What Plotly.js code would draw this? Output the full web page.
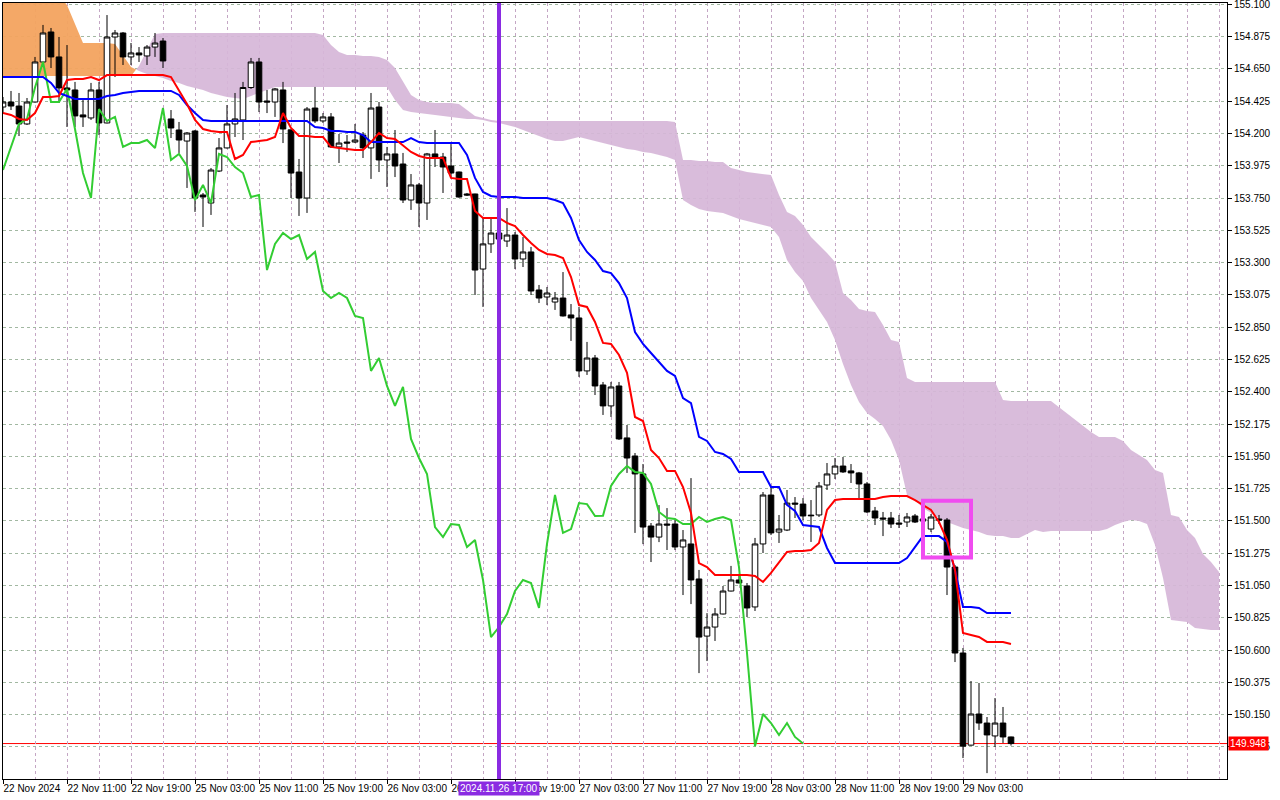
<!DOCTYPE html>
<html><head><meta charset="utf-8">
<script src="https://cdn.plot.ly/plotly-3.0.1.min.js"></script>
<style>html,body{margin:0;padding:0;background:#fff;}#chart{width:1280px;height:800px;}</style>
</head><body><div id="chart"></div>
<script>
// ---- data (USDJPY H1, Ichimoku) ----
const tickBars = [0,8,16,24,32,40,48,56,64,72,80,88,96,104,112,120];
const tickLabels = ['22 Nov 2024','22 Nov 11:00','22 Nov 19:00','25 Nov 03:00','25 Nov 11:00','25 Nov 19:00','26 Nov 03:00','26 Nov 11:00','26 Nov 19:00','27 Nov 03:00','27 Nov 11:00','27 Nov 19:00','28 Nov 03:00','28 Nov 11:00','28 Nov 19:00','29 Nov 03:00'];

const open = [154.384,154.419,154.391,154.266,154.419,154.698,154.907,154.733,154.517,154.503,
154.329,154.308,154.503,154.273,154.872,154.900,154.733,154.761,154.740,154.802,
154.844,154.301,154.224,154.147,154.217,153.771,153.715,153.938,154.099,154.266,
154.294,154.520,154.698,154.426,154.419,154.503,154.225,153.931,153.750,154.377,
154.287,154.315,154.106,154.140,154.140,154.189,154.099,154.384,154.015,154.057,
153.987,153.736,153.841,153.715,154.057,154.036,153.973,153.931,153.778,153.778,
153.255,153.430,153.506,153.450,153.492,153.325,153.374,153.109,153.060,153.025,
153.053,152.935,152.914,152.545,152.635,152.447,152.301,152.440,152.078,151.952,
151.827,151.464,151.387,151.478,151.478,151.318,151.339,151.095,150.697,150.760,
150.851,151.011,151.088,151.046,150.900,151.339,151.680,151.422,151.436,151.624,
151.617,151.540,151.541,151.750,151.827,151.882,151.848,151.834,151.757,151.569,
151.520,151.520,151.485,151.492,151.534,151.499,151.443,151.513,151.506,151.178,
150.579,149.937,150.154,150.091,150.001,150.091,149.994];

const high = [154.454,154.496,154.482,154.447,154.733,154.956,154.935,154.872,154.816,154.559,
154.433,154.552,154.559,155.025,154.921,154.907,154.830,154.802,154.816,154.900,
154.865,154.363,154.280,154.210,154.224,153.785,153.959,154.168,154.398,154.482,
154.559,154.726,154.726,154.503,154.517,154.559,154.225,154.022,154.384,154.524,
154.342,154.342,154.196,154.189,154.266,154.210,154.482,154.419,154.106,154.224,
154.064,153.917,153.855,154.064,154.224,154.064,154.126,153.934,153.785,153.780,
153.618,153.611,153.583,153.680,153.513,153.478,153.409,153.144,153.130,153.095,
153.234,153.011,152.991,152.747,152.656,152.468,152.468,152.468,152.168,151.973,
151.896,151.485,151.610,151.589,151.506,151.436,151.798,151.158,150.857,150.892,
151.046,151.186,151.123,151.067,151.381,151.701,151.736,151.541,151.715,151.666,
151.659,151.645,151.771,151.903,151.938,151.945,151.896,151.841,151.771,151.597,
151.562,151.562,151.541,151.555,151.548,151.541,151.548,151.541,151.520,151.192,
150.614,150.384,150.370,150.133,150.265,150.203,149.996];

const low = [154.342,154.363,154.182,154.259,154.415,154.663,154.656,154.412,154.245,154.245,
154.245,154.294,154.189,154.270,154.593,154.677,154.677,154.698,154.677,154.733,
154.656,154.168,154.064,153.820,153.653,153.548,153.632,153.931,154.095,154.175,
154.154,154.510,154.349,154.342,154.315,154.133,153.750,153.625,153.646,154.273,
154.273,154.100,153.994,154.071,154.133,154.029,153.883,153.931,153.827,153.896,
153.715,153.667,153.548,153.597,153.966,153.785,153.896,153.752,153.764,153.074,
152.991,153.367,153.423,153.409,153.255,153.269,153.074,153.018,153.004,152.970,
152.924,152.754,152.503,152.517,152.377,152.238,152.224,152.064,151.834,151.416,
151.338,151.213,151.352,151.297,151.297,150.983,150.920,150.439,150.523,150.663,
150.848,151.008,151.064,150.830,150.872,151.276,151.401,151.346,151.429,151.520,
151.506,151.353,151.527,151.715,151.792,151.834,151.764,151.659,151.555,151.471,
151.394,151.450,151.450,151.457,151.485,151.471,151.422,151.478,150.983,150.516,
149.847,149.934,150.043,149.742,149.924,149.952,149.934];

const close = [154.419,154.391,154.266,154.419,154.698,154.900,154.733,154.517,154.503,154.322,
154.315,154.503,154.273,154.872,154.900,154.733,154.761,154.747,154.802,154.830,
154.705,154.238,154.154,154.203,153.750,153.757,153.945,154.099,154.266,154.301,
154.520,154.698,154.419,154.419,154.510,154.231,153.924,153.750,154.370,154.287,
154.315,154.106,154.133,154.133,154.154,154.099,154.377,154.015,154.057,153.973,
153.736,153.841,153.715,154.057,154.036,153.966,153.924,153.757,153.771,153.248,
153.430,153.506,153.464,153.492,153.325,153.374,153.102,153.053,153.088,153.053,
152.928,152.914,152.545,152.635,152.440,152.301,152.433,152.071,151.938,151.827,
151.457,151.387,151.478,151.471,151.318,151.367,151.088,150.690,150.760,150.851,
151.011,151.088,151.067,150.893,151.339,151.680,151.416,151.443,151.624,151.617,
151.534,151.536,151.743,151.827,151.882,151.841,151.834,151.757,151.562,151.520,
151.513,151.478,151.478,151.527,151.492,151.513,151.527,151.506,151.178,150.579,
149.930,150.154,150.091,150.008,150.091,149.994,149.948];

const tenkan = [154.342,154.329,154.301,154.294,154.342,154.454,154.454,154.461,154.572,154.579,
154.579,154.593,154.572,154.607,154.607,154.607,154.607,154.607,154.607,154.607,
154.607,154.593,154.503,154.405,154.294,154.231,154.217,154.210,154.210,154.022,
154.050,154.140,154.147,154.154,154.175,154.342,154.238,154.182,154.182,154.175,
154.175,154.106,154.099,154.092,154.085,154.085,154.140,154.203,154.168,154.161,
154.113,154.071,154.043,154.029,154.029,154.029,153.890,153.883,153.883,153.660,
153.611,153.611,153.611,153.576,153.555,153.492,153.436,153.388,153.360,153.353,
153.332,153.199,153.004,152.991,152.886,152.740,152.733,152.656,152.531,152.224,
152.196,151.994,151.938,151.848,151.848,151.736,151.555,151.206,151.178,151.123,
151.123,151.123,151.123,151.123,151.116,151.074,151.137,151.213,151.283,151.290,
151.290,151.297,151.346,151.576,151.645,151.652,151.652,151.652,151.652,151.652,
151.666,151.673,151.673,151.673,151.645,151.610,151.576,151.492,151.367,151.158,
150.719,150.705,150.691,150.656,150.656,150.656,150.642];

const kijun = [154.593,154.593,154.593,154.593,154.593,154.593,154.552,154.482,154.461,154.440,
154.440,154.440,154.440,154.461,154.468,154.482,154.489,154.496,154.496,154.496,
154.496,154.496,154.468,154.398,154.342,154.294,154.287,154.287,154.287,154.287,
154.287,154.287,154.287,154.287,154.287,154.287,154.287,154.287,154.287,154.245,
154.238,154.217,154.217,154.210,154.210,154.189,154.140,154.140,154.140,154.140,
154.140,154.168,154.140,154.133,154.133,154.133,154.133,154.133,154.050,153.890,
153.792,153.764,153.757,153.757,153.757,153.750,153.750,153.750,153.750,153.736,
153.715,153.611,153.457,153.374,153.318,153.241,153.227,153.157,153.053,152.816,
152.733,152.670,152.607,152.545,152.510,152.356,152.321,152.085,152.057,151.980,
151.966,151.931,151.841,151.841,151.841,151.841,151.736,151.736,151.611,151.569,
151.471,151.464,151.457,151.311,151.206,151.206,151.206,151.206,151.206,151.206,
151.206,151.206,151.206,151.241,151.318,151.394,151.394,151.394,151.353,151.158,
150.900,150.900,150.893,150.858,150.858,150.858,150.858];

// Chikou span: closes plotted 26 bars back (bars 0..100)
const chikou = [153.945,154.099,154.266,154.301,154.520,154.698,154.419,154.419,154.510,154.231,
153.924,153.750,154.370,154.287,154.315,154.106,154.133,154.133,154.154,154.099,
154.377,154.015,154.057,153.973,153.736,153.841,153.715,154.057,154.036,153.966,
153.924,153.757,153.771,153.248,153.430,153.506,153.464,153.492,153.325,153.374,
153.102,153.053,153.088,153.053,152.928,152.914,152.545,152.635,152.440,152.301,
152.433,152.071,151.938,151.827,151.457,151.387,151.478,151.471,151.318,151.367,
151.088,150.690,150.760,150.851,151.011,151.088,151.067,150.893,151.339,151.680,
151.416,151.443,151.624,151.617,151.534,151.536,151.743,151.827,151.882,151.841,
151.834,151.757,151.562,151.520,151.513,151.478,151.478,151.527,151.492,151.513,
151.527,151.506,151.178,150.579,149.930,150.154,150.091,150.008,150.091,149.994,
149.948];

// Senkou spans (bars 0..152, projected 26 bars ahead)
const spanA = [155.160,155.160,155.160,155.160,155.160,155.160,155.160,155.160,155.095,154.956,
154.830,154.830,154.830,154.830,154.823,154.740,154.663,154.635,154.614,154.600,
154.586,154.565,154.552,154.531,154.517,154.503,154.482,154.468,154.454,154.447,
154.440,154.461,154.482,154.503,154.524,154.524,154.524,154.524,154.524,154.524,
154.524,154.524,154.524,154.524,154.524,154.524,154.524,154.524,154.524,154.433,
154.363,154.349,154.342,154.335,154.329,154.322,154.315,154.308,154.301,154.301,
154.294,154.280,154.273,154.259,154.245,154.224,154.203,154.182,154.161,154.147,
154.147,154.161,154.175,154.161,154.147,154.133,154.120,154.106,154.092,154.085,
154.071,154.064,154.050,154.036,154.015,153.736,153.701,153.673,153.660,153.653,
153.646,153.625,153.604,153.590,153.576,153.562,153.548,153.478,153.318,153.234,
153.172,153.053,152.970,152.886,152.760,152.593,152.447,152.328,152.252,152.210,
152.161,152.064,151.924,151.680,151.645,151.590,151.555,151.520,151.492,151.471,
151.450,151.436,151.422,151.401,151.394,151.394,151.380,151.380,151.408,151.436,
151.422,151.429,151.429,151.429,151.429,151.429,151.429,151.429,151.443,151.471,
151.492,151.506,151.499,151.478,151.332,151.102,150.809,150.802,150.795,150.754,
150.747,150.740,150.740];

const spanB = [154.600,154.600,154.600,154.600,154.600,154.600,154.600,154.600,154.600,154.600,
154.600,154.600,154.600,154.600,154.600,154.600,154.600,154.670,154.782,154.893,
154.900,154.900,154.900,154.900,154.900,154.900,154.900,154.900,154.900,154.900,
154.900,154.900,154.900,154.900,154.900,154.900,154.900,154.900,154.900,154.900,
154.886,154.816,154.768,154.747,154.747,154.740,154.740,154.733,154.712,154.656,
154.559,154.468,154.433,154.419,154.412,154.412,154.412,154.405,154.363,154.322,
154.308,154.294,154.287,154.287,154.287,154.287,154.287,154.287,154.287,154.287,
154.287,154.287,154.287,154.287,154.287,154.287,154.287,154.287,154.287,154.287,
154.287,154.287,154.287,154.287,154.280,154.015,154.015,154.008,154.008,154.001,
154.001,153.959,153.945,153.931,153.924,153.917,153.910,153.771,153.653,153.625,
153.562,153.478,153.423,153.367,153.304,153.088,153.039,152.977,152.963,152.956,
152.865,152.760,152.747,152.496,152.468,152.468,152.468,152.468,152.468,152.468,
152.468,152.468,152.468,152.468,152.468,152.342,152.335,152.335,152.335,152.335,
152.335,152.335,152.287,152.245,152.203,152.161,152.119,152.084,152.084,152.084,
152.057,151.994,151.959,151.924,151.854,151.834,151.541,151.527,151.436,151.381,
151.269,151.213,151.144];

const lastPrice = 149.948;
const markedBar = 62;
const markedLabel = '2024.11.26 17:00';
const boxBars = [115, 121];
const boxPrices = [151.245, 151.641];

// ---- build ----
const xr = [0, 153];
const yr = [149.701, 155.109];
const idx = open.map((_, i) => i);

function cloudSegments(a, b) {
  const segs = [];
  let cur = null;
  for (let i = 0; i < a.length; i++) {
    const up = a[i] >= b[i];
    if (!cur) { cur = {up, xs:[i], a:[a[i]], b:[b[i]]}; continue; }
    if (up !== cur.up) {
      const d0 = a[i-1] - b[i-1], d1 = a[i] - b[i];
      const t = d0 / (d0 - d1);
      const xc = i - 1 + t, yc = a[i-1] + t * (a[i] - a[i-1]);
      cur.xs.push(xc); cur.a.push(yc); cur.b.push(yc);
      segs.push(cur);
      cur = {up, xs:[xc, i], a:[yc, a[i]], b:[yc, b[i]]};
    } else {
      cur.xs.push(i); cur.a.push(a[i]); cur.b.push(b[i]);
    }
  }
  segs.push(cur);
  return segs;
}

const traces = [];
cloudSegments(spanA, spanB).forEach(s => {
  traces.push({
    type:'scatter', mode:'lines', xaxis:'x', yaxis:'y',
    x: s.xs.concat(s.xs.slice().reverse()),
    y: s.a.concat(s.b.slice().reverse()),
    fill:'toself', fillcolor: s.up ? 'rgba(243,163,95,0.95)' : 'rgba(214,182,216,0.92)',
    line:{width:0}, hoverinfo:'skip'
  });
});

traces.push({
  type:'candlestick', xaxis:'x2', yaxis:'y2',
  x: idx, open, high, low, close,
  increasing:{line:{color:'#000000', width:1}, fillcolor:'#ffffff'},
  decreasing:{line:{color:'#000000', width:1}, fillcolor:'#000000'},
  whiskerwidth:0, hoverinfo:'skip'
});
traces.push({type:'scatter', mode:'lines', xaxis:'x2', yaxis:'y2', x: chikou.map((_, i) => i), y: chikou, line:{color:'#32CD32', width:2}, hoverinfo:'skip'});
traces.push({type:'scatter', mode:'lines', xaxis:'x2', yaxis:'y2', x: idx, y: kijun, line:{color:'#0000ff', width:2}, hoverinfo:'skip'});
traces.push({type:'scatter', mode:'lines', xaxis:'x2', yaxis:'y2', x: idx, y: tenkan, line:{color:'#ff0000', width:2}, hoverinfo:'skip'});

const layout = {
  width:1280, height:800,
  margin:{l:3, r:53, t:3, b:21},
  paper_bgcolor:'#ffffff', plot_bgcolor:'#ffffff',
  showlegend:false,
  font:{family:'Liberation Sans, Arial, sans-serif', size:10, color:'#000000'},
  boxgap:0.3, boxgroupgap:0,
  xaxis:{range:xr, tickmode:'linear', tick0:0, dtick:4, showgrid:true, gridcolor:'#c4a6c4', gridwidth:1, griddash:'3px,3px',
         showticklabels:false, ticks:'', showline:true, mirror:true, linecolor:'#000000', linewidth:1, zeroline:false,
         rangeslider:{visible:false}, fixedrange:true},
  yaxis:{range:yr, side:'right', tickmode:'linear', tick0:149.925, dtick:0.225, tickformat:'.3f',
         showgrid:true, gridcolor:'#a2b8a2', gridwidth:1, griddash:'3px,3px',
         ticks:'outside', ticklen:4, tickcolor:'#000000', showline:true, mirror:true, linecolor:'#000000', linewidth:1,
         zeroline:false, tickfont:{size:10, color:'#000000'}, ticklabeloverflow:'allow', fixedrange:true},
  xaxis2:{overlaying:'x', anchor:'y2', range:xr, tickmode:'array', tickvals:tickBars, ticktext:tickLabels,
          ticks:'outside', ticklen:4, tickcolor:'#000000', showgrid:false, zeroline:false, showline:false,
          tickangle:0, ticklabelposition:'outside right', ticklabeloverflow:'allow',
          tickfont:{size:10, color:'#000000'}, rangeslider:{visible:false}, fixedrange:true},
  yaxis2:{overlaying:'y', anchor:'x2', range:yr, visible:false, side:'right', fixedrange:true},
  shapes:[
    {type:'line', xref:'paper', yref:'y', x0:0, x1:1, y0:lastPrice, y1:lastPrice, line:{color:'#ff0000', width:1}, layer:'below'},
    {type:'line', xref:'x2', yref:'paper', x0:markedBar, x1:markedBar, y0:0, y1:1, line:{color:'#8A2BE2', width:4}, layer:'above'},
    {type:'rect', xref:'x2', yref:'y2', x0:boxBars[0], x1:boxBars[1], y0:boxPrices[0], y1:boxPrices[1], line:{color:'#f04cf0', width:4}, layer:'above'}
  ],
  annotations:[
    {xref:'x2', yref:'paper', x:markedBar, y:0, xanchor:'center', yanchor:'top', yshift:-2, text:markedLabel, showarrow:false,
     bgcolor:'#8A2BE2', font:{color:'#ffffff', size:10}, borderpad:1},
    {xref:'paper', yref:'y', x:1, y:lastPrice, xanchor:'left', yanchor:'middle', xshift:1, text:lastPrice.toFixed(3), showarrow:false,
     bgcolor:'#ff0000', font:{color:'#ffffff', size:10}, borderpad:1}
  ]
};

Plotly.newPlot('chart', traces, layout, {staticPlot:true, displayModeBar:false});
</script>
</body></html>
